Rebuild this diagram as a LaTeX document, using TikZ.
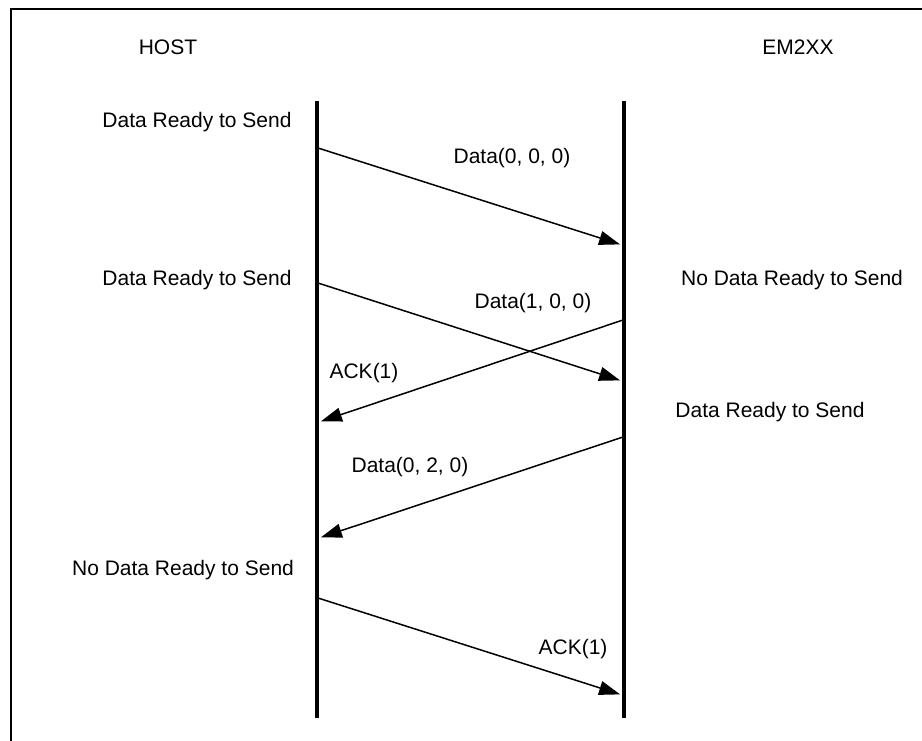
\documentclass[tikz,border=0pt]{standalone}
\usepackage{fontspec}
\setmainfont{Liberation Sans}
\usetikzlibrary{arrows.meta}
\begin{document}
\begin{tikzpicture}[x=1pt,y=-1pt,
  lbl/.style={font=\fontsize{21}{24}\selectfont, inner sep=0pt, anchor=center},
  life/.style={line width=4pt},
  msg/.style={line width=1.5pt, -{Triangle[length=21pt,width=14pt]}, shorten >=2pt},
  frame/.style={line width=2pt}]
\useasboundingbox (0,0) rectangle (922,741);
\draw[frame] (11,741) -- (11,9) -- (922,9);
% lifelines
\coordinate (hT) at (317,101); \coordinate (hB) at (317,718);
\coordinate (eT) at (624,101); \coordinate (eB) at (624,718);
\draw[life] (hT) -- (hB);
\draw[life] (eT) -- (eB);
% titles
\node[lbl] (host) at (168,47) {HOST};
\node[lbl] (em) at (798,47) {EM2XX};
% state labels
\node[lbl] (s1) at (197,122) {Data Ready to Send};
\node[lbl] (s2) at (197,280) {Data Ready to Send};
\node[lbl] (s3) at (792,280) {No Data Ready to Send};
\node[lbl] (s4) at (770,412) {Data Ready to Send};
\node[lbl] (s5) at (183,570) {No Data Ready to Send};
% message endpoints
\coordinate (a1) at (318,148); \coordinate (b1) at (622,245);
\coordinate (a2) at (318,283); \coordinate (b2) at (622,381);
\coordinate (a3) at (623,320); \coordinate (b3) at (319,422);
\coordinate (a4) at (623,437); \coordinate (b4) at (319,538);
\coordinate (a5) at (318,598); \coordinate (b5) at (622,695);
\draw[msg] (a1) -- (b1);
\draw[msg] (a2) -- (b2);
\draw[msg] (a3) -- (b3);
\draw[msg] (a4) -- (b4);
\draw[msg] (a5) -- (b5);
% message labels
\node[lbl] (m1) at (512,158) {Data(0, 0, 0)};
\node[lbl] (m2) at (533,303) {Data(1, 0, 0)};
\node[lbl] (m3) at (364,373) {ACK(1)};
\node[lbl] (m4) at (410,467) {Data(0, 2, 0)};
\node[lbl] (m5) at (573,649) {ACK(1)};
\end{tikzpicture}
\end{document}
